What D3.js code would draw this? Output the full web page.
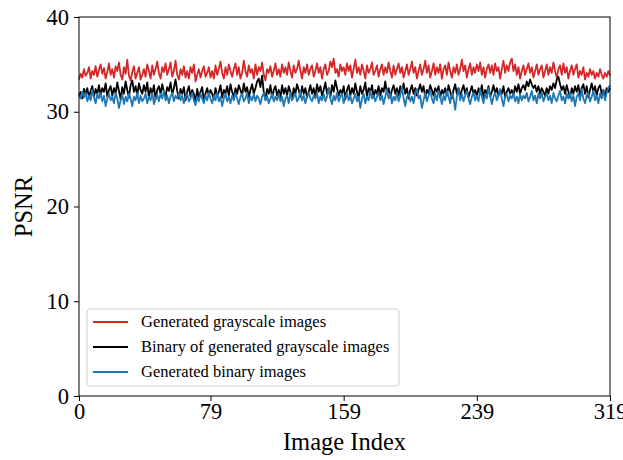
<!DOCTYPE html>
<html>
<head>
<meta charset="utf-8">
<script src="https://cdn.jsdelivr.net/npm/d3@7"></script>
<style>
  body { margin: 0; background: #fff; }
  svg text { font-family: "Times New Roman", "Liberation Serif", Times, serif; fill: #000; }
</style>
</head>
<body>
<div id="chart"></div>
<script>
// values, one per image index (0..319)
const grayscale = [
  33.4,34.0,33.6,34.5,33.8,34.1,34.7,33.5,34.3,33.9,34.8,33.7,34.4,35.0,34.0,34.6,33.5,34.2,35.1,33.9,
  34.5,33.6,34.8,34.3,35.2,33.9,33.4,34.7,34.0,35.5,33.8,33.3,34.2,34.8,33.5,34.1,34.7,33.4,33.9,34.5,
  33.7,35.0,34.3,33.5,34.9,33.9,34.5,35.3,34.1,33.5,34.7,34.2,35.1,33.9,34.5,35.2,33.7,34.3,35.4,33.9,
  33.4,34.5,33.9,34.8,33.6,34.3,33.5,34.7,34.1,35.0,33.2,33.9,34.5,33.6,34.3,34.8,33.7,34.1,34.7,33.6,
  34.3,33.5,34.9,33.9,34.5,35.3,34.1,33.5,34.7,33.9,35.0,34.3,33.7,34.5,35.1,33.9,34.7,33.5,34.1,35.4,
  34.3,33.7,34.9,34.1,34.5,33.5,35.0,33.9,34.7,34.3,35.2,33.9,33.3,34.5,34.1,34.8,33.7,34.3,35.1,33.9,
  34.5,33.7,35.0,34.1,34.7,33.9,35.2,34.3,33.6,34.9,34.1,34.5,35.4,34.3,33.5,34.7,34.1,35.0,33.9,34.5,
  34.9,33.7,34.3,35.1,34.1,34.7,33.5,34.5,35.0,33.9,34.3,35.3,34.7,35.6,34.1,34.5,33.7,35.0,34.3,34.7,
  33.9,35.1,34.3,34.9,33.6,34.5,35.5,34.1,34.7,33.9,35.0,34.3,33.5,34.9,34.1,34.5,35.2,33.9,34.3,34.9,
  33.7,34.5,35.0,33.9,34.7,34.1,35.2,34.3,33.6,34.9,33.9,34.5,35.1,34.1,34.7,33.6,34.3,35.0,33.9,34.5,
  35.3,34.1,34.7,33.5,34.3,35.0,33.9,34.5,35.4,34.1,34.9,33.6,34.3,35.1,33.9,34.7,34.1,35.0,33.5,34.5,
  34.9,33.9,35.2,34.3,33.6,34.7,34.1,35.0,33.9,34.5,35.5,34.3,34.9,33.6,34.5,35.1,33.9,34.7,34.1,35.0,
  34.3,35.2,33.9,34.7,33.6,34.5,35.0,34.1,34.9,33.9,35.1,34.3,34.7,33.5,34.5,35.4,34.1,34.9,34.3,35.2,
  35.6,34.3,35.0,33.9,34.7,33.5,34.3,34.9,33.9,34.5,35.1,34.1,34.7,33.6,34.3,35.0,33.9,34.5,34.9,33.6,
  34.3,35.0,33.9,34.7,34.1,35.2,34.3,33.6,34.5,34.9,33.9,35.1,34.1,34.7,33.5,34.3,34.9,33.9,34.5,35.0,
  33.6,34.3,33.9,34.7,33.4,34.1,33.7,34.5,33.9,34.3,33.5,34.1,33.7,34.5,33.9,33.5,34.1,33.7,34.3,33.8
];
const binaryOfGray = [
  31.7,32.1,31.4,32.4,31.8,32.5,31.5,32.2,32.7,31.6,32.4,31.9,32.8,31.7,32.5,32.1,33.0,31.6,32.3,32.7,
  31.7,32.5,31.9,33.1,32.2,31.3,32.6,31.9,33.2,32.3,31.5,32.8,33.3,32.1,32.7,31.7,33.0,32.3,31.9,32.8,
  32.1,33.1,31.5,32.5,31.9,32.8,31.3,32.3,32.7,31.9,32.9,32.1,31.6,32.6,32.2,33.1,31.8,32.5,33.4,32.2,
  31.4,32.4,31.9,32.6,31.2,32.1,32.7,31.6,32.3,31.9,31.0,32.4,31.5,32.1,32.6,31.2,31.9,32.5,31.7,32.3,
  31.9,31.3,32.5,31.7,32.1,32.8,31.5,32.3,31.9,32.7,31.7,32.9,32.1,31.5,32.5,31.9,32.8,32.3,31.7,33.0,
  32.1,32.6,31.5,32.3,32.9,31.9,32.5,33.2,33.5,32.6,33.8,32.1,31.3,32.4,31.9,32.8,31.5,32.3,32.7,31.7,
  32.3,31.5,32.8,31.9,32.5,31.7,32.7,32.1,31.3,32.5,31.9,32.9,32.3,31.6,32.7,31.9,32.5,31.5,32.1,32.8,
  31.9,32.5,31.5,32.9,32.1,32.7,31.7,32.3,33.1,31.9,32.5,31.5,32.8,32.1,33.3,32.5,31.7,32.3,31.9,32.7,
  31.3,32.3,32.8,31.7,32.5,31.9,33.0,32.1,31.5,32.7,31.9,32.3,33.1,31.6,32.5,32.1,32.8,31.5,32.3,31.9,
  32.7,31.7,32.5,32.1,33.2,31.9,32.5,31.5,32.3,32.8,31.9,32.5,31.7,32.7,32.1,33.0,31.9,32.5,31.4,32.3,
  32.8,31.9,32.5,31.7,32.3,32.9,32.1,32.7,31.5,32.3,31.9,32.8,32.3,31.7,32.5,32.1,32.7,31.5,32.3,31.9,
  32.5,31.7,32.8,32.1,31.4,32.3,32.9,31.9,32.5,31.6,32.3,32.8,31.9,32.5,31.5,32.1,32.7,31.9,32.3,31.6,
  32.5,31.9,32.8,31.5,32.3,31.9,32.7,31.6,32.1,32.8,31.9,32.5,31.7,32.3,31.9,32.7,31.5,32.1,32.5,31.9,
  32.3,31.7,32.7,32.1,32.9,31.9,32.5,32.8,32.3,33.2,32.7,33.4,32.9,32.5,32.8,32.1,32.7,31.9,32.5,32.1,
  31.7,32.5,31.9,32.7,32.3,33.0,32.5,33.4,33.7,32.9,32.3,32.7,31.9,32.8,32.1,31.5,32.5,31.9,32.7,32.1,
  32.8,31.7,32.5,32.9,31.9,32.7,31.5,32.3,33.0,32.1,32.7,31.7,32.5,32.8,31.9,32.3,31.6,32.5,32.1,32.5
];
const binaryGen = [
  31.8,31.4,32.1,31.5,32.0,31.1,31.7,31.2,32.3,31.5,30.9,31.9,31.4,32.0,31.1,31.7,30.6,31.4,31.9,31.2,
  31.6,30.9,32.0,31.4,30.4,31.2,31.8,30.8,31.6,31.1,31.9,31.4,30.6,31.6,31.2,32.0,30.9,31.7,31.1,31.4,
  31.9,30.9,31.6,31.2,32.0,30.8,31.4,31.8,31.1,31.9,31.4,32.2,31.2,31.7,30.9,31.6,32.0,31.1,31.7,31.4,
  32.0,31.2,31.7,30.9,31.6,31.9,31.1,31.4,32.0,31.2,30.7,31.6,31.1,31.9,31.4,30.9,31.7,31.2,32.0,31.4,
  30.9,31.7,31.2,32.0,31.1,31.6,30.6,31.4,31.9,31.1,31.6,30.9,31.7,31.2,32.0,31.4,30.8,31.6,31.9,31.1,
  31.4,32.0,30.9,31.6,31.2,31.9,31.1,31.7,31.4,30.8,31.6,32.0,31.2,31.7,30.9,31.4,31.9,31.1,31.6,31.2,
  31.9,31.1,31.6,30.6,31.4,31.7,30.9,32.0,31.2,31.6,31.9,31.1,31.4,32.2,31.2,31.7,30.9,31.6,32.0,31.4,
  31.1,31.7,31.4,32.0,30.9,31.6,31.2,31.9,31.1,31.6,32.5,31.4,30.8,31.7,31.2,32.0,31.1,31.6,31.9,30.9,
  31.6,32.0,31.2,31.7,30.9,31.4,31.9,31.1,31.6,30.4,31.4,31.9,30.9,31.6,31.2,32.2,31.4,31.7,31.1,31.6,
  32.0,31.2,31.7,30.8,31.6,32.3,31.4,31.9,30.9,31.6,31.2,32.0,31.1,31.7,32.6,31.4,30.6,31.6,31.9,31.1,
  31.6,30.9,31.9,32.4,31.4,31.7,30.4,31.2,32.0,31.1,31.7,32.3,31.4,30.9,31.9,31.2,32.2,31.6,30.8,31.7,
  31.2,32.2,31.6,30.9,32.0,31.4,30.2,31.6,32.4,31.2,31.9,31.1,31.7,32.2,31.4,30.8,31.6,32.0,31.2,31.7,
  31.1,32.3,31.6,30.9,31.9,31.4,32.5,31.7,30.8,31.6,32.0,31.2,31.7,32.4,31.4,30.6,31.6,31.9,31.1,31.7,
  31.4,32.0,31.1,31.6,30.9,31.9,31.2,31.7,31.4,32.0,31.1,31.6,32.2,31.2,31.7,30.9,31.9,31.4,32.0,31.1,
  31.6,31.9,31.2,31.7,30.9,32.0,31.4,31.1,31.7,32.2,31.2,31.6,30.9,31.9,31.4,32.0,31.1,31.7,30.6,31.6,
  31.9,31.2,32.3,31.4,30.9,31.7,32.0,31.1,31.6,32.2,31.2,31.7,30.9,31.9,31.4,32.2,31.2,32.0,32.5,32.8
];

const xTicks = [0, 79, 159, 239, 319];
const yTicks = [0, 10, 20, 30, 40];
const seriesNames = ['Generated grayscale images', 'Binary of generated grayscale images', 'Generated binary images'];
const seriesColors = ['#d62728', '#000000', '#1f77b4'];

const series = [grayscale, binaryOfGray, binaryGen];
const FONT = '"Times New Roman", "Liberation Serif", Times, serif';

//
// layout
//
const W = 623, H = 460;
const margin = { top: 17, right: 13, bottom: 64, left: 79 };
const iw = W - margin.left - margin.right;
const ih = H - margin.top - margin.bottom;

const svg = d3.select('#chart').append('svg')
  .attr('width', W)
  .attr('height', H);

const g = svg.append('g')
  .attr('transform', `translate(${margin.left},${margin.top})`);

const x = d3.scaleLinear().domain([0, 319]).range([0, iw]);
const y = d3.scaleLinear().domain([0, 40]).range([ih, 0]);

//
// lines
//
const line = d3.line()
  .x((d, i) => x(i))
  .y(d => y(d));

g.selectAll('path.series')
  .data(series)
  .enter()
  .append('path')
  .attr('class', 'series')
  .attr('d', d => line(d))
  .attr('fill', 'none')
  .attr('stroke', (d, i) => seriesColors[i])
  .attr('stroke-width', 1.8)
  .attr('stroke-linejoin', 'round');

//
// frame + axes
//
g.append('rect')
  .attr('width', iw)
  .attr('height', ih)
  .attr('fill', 'none')
  .attr('stroke', '#000')
  .attr('stroke-width', 1);

const xAxis = g.append('g')
  .attr('transform', `translate(0,${ih})`)
  .call(d3.axisBottom(x).tickValues(xTicks).tickSize(5).tickPadding(2));

const yAxis = g.append('g')
  .call(d3.axisLeft(y).tickValues(yTicks).tickSize(5).tickPadding(5));

[xAxis, yAxis].forEach(a => {
  a.select('.domain').remove();
  a.selectAll('line').attr('stroke', '#000');
  a.selectAll('text')
    .attr('font-family', FONT)
    .attr('font-size', 22.5)
    .attr('fill', '#000');
});

svg.append('text')
  .attr('x', margin.left + iw / 2)
  .attr('y', 450)
  .attr('text-anchor', 'middle')
  .attr('font-family', FONT)
  .attr('font-size', 24.5)
  .text('Image Index');

svg.append('text')
  .attr('transform', `translate(32,${margin.top + ih / 2}) rotate(-90)`)
  .attr('text-anchor', 'middle')
  .attr('font-family', FONT)
  .attr('font-size', 24.5)
  .text('PSNR');

//
// legend
//
const legend = g.append('g')
  .attr('transform', `translate(${87 - margin.left},${309 - margin.top})`);

legend.append('rect')
  .attr('width', 312)
  .attr('height', 77)
  .attr('rx', 3)
  .attr('fill', '#fff')
  .attr('fill-opacity', 0.8)
  .attr('stroke', '#d0d0d0');

const rows = legend.selectAll('g.row')
  .data(seriesNames)
  .enter()
  .append('g')
  .attr('class', 'row')
  .attr('transform', (d, i) => `translate(0,${13 + i * 25})`);

rows.append('line')
  .attr('x1', 6)
  .attr('x2', 41)
  .attr('stroke', (d, i) => seriesColors[i])
  .attr('stroke-width', 1.8);

rows.append('text')
  .attr('x', 54)
  .attr('dy', '0.32em')
  .attr('font-family', FONT)
  .attr('font-size', 16.5)
  .text(d => d);
</script>
</body>
</html>
